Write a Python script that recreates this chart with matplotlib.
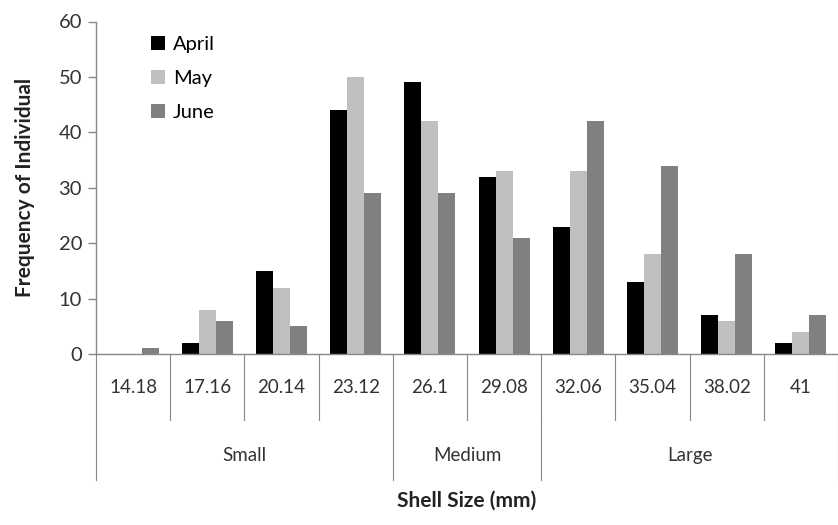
import matplotlib
matplotlib.use("Agg")
import matplotlib.pyplot as plt
import numpy as np
from matplotlib.transforms import blended_transform_factory
from matplotlib.patches import Patch

categories = ["14.18", "17.16", "20.14", "23.12", "26.1", "29.08", "32.06", "35.04", "38.02", "41"]
april = [0, 2, 15, 44, 49, 32, 23, 13, 7, 2]
may = [0, 8, 12, 50, 42, 33, 33, 18, 6, 4]
june = [1, 6, 5, 29, 29, 21, 42, 34, 18, 7]
groups = ["Small", "Medium", "Large"]
group_sizes = [4, 2, 4]
series_names = ["April", "May", "June"]
colors = ["#000000", "#bfbfbf", "#808080"]

plt.rcParams['font.family'] = ['Lato', 'DejaVu Sans']

fig = plt.figure(figsize=(8.38, 5.25), dpi=100)
ax = fig.add_axes([96/838, 171/525, 742/838, 332.5/525])

x = np.arange(len(categories))
w = 0.23
for i, (vals, c) in enumerate(zip([april, may, june], colors)):
    ax.bar(x + (i - 1) * w, vals, width=w, color=c, label=series_names[i], zorder=2)

ax.set_xlim(-0.5, len(categories) - 0.5)
ax.set_ylim(0, 60)
ax.set_yticks(range(0, 61, 10))
ax.tick_params(axis='y', labelsize=14.5, length=6, width=1, color='#888888', labelcolor='#333333', pad=4)
ax.set_xticks([])
for s in ['top', 'right']:
    ax.spines[s].set_visible(False)
for s in ['left', 'bottom']:
    ax.spines[s].set_color('#888888')
    ax.spines[s].set_linewidth(1)

trans = blended_transform_factory(ax.transData, ax.transAxes)
# category separators
for b in np.arange(-0.5, len(categories) + 0.5, 1.0):
    ax.plot([b, b], [0, -0.198], transform=trans, color='#888888', lw=0.8, clip_on=False)
for i, lab in enumerate(categories):
    ax.text(i, -0.102, lab, transform=trans, ha='center', va='center', fontsize=13.5, color='#333333')
# group separators
edges = np.concatenate([[0], np.cumsum(group_sizes)]) - 0.5
for b in edges:
    ax.plot([b, b], [-0.198, -0.379], transform=trans, color='#888888', lw=0.8, clip_on=False)
for g, a, b in zip(groups, edges[:-1], edges[1:]):
    ax.text((a + b) / 2, -0.304, g, transform=trans, ha='center', va='center', fontsize=13.5, color='#333333')

ax.text(0.5, -0.44, "Shell Size (mm)", transform=ax.transAxes, ha='center', va='center',
        fontsize=15, fontweight='bold', color='#222222')
ax.text(-0.096, 0.5, "Frequency of Individual", transform=ax.transAxes, ha='center', va='center',
        rotation=90, fontsize=15, fontweight='bold', color='#222222')

handles = [Patch(facecolor=c, edgecolor='none') for c in colors]
ax.legend(handles, series_names, loc='upper left', bbox_to_anchor=(0.055, 1.0), frameon=False,
          fontsize=14.5, handlelength=0.7, handleheight=0.7, handletextpad=0.4, labelspacing=0.85,
          borderaxespad=0.3)

fig.savefig("out.png", dpi=100)
